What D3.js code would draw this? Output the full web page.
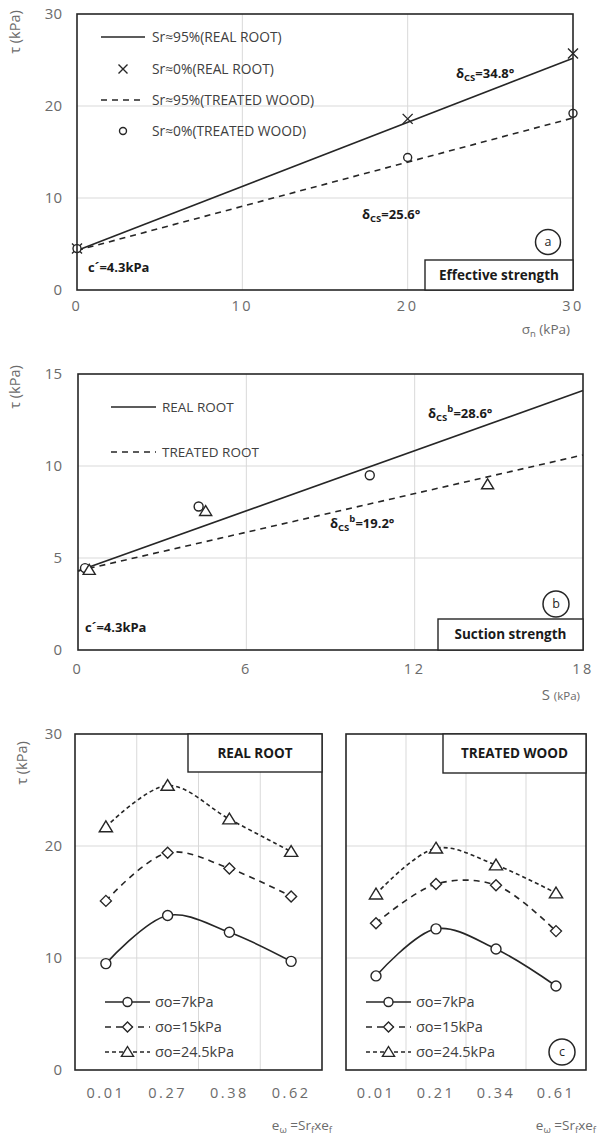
<!DOCTYPE html>
<html><head><meta charset="utf-8">
<script src="https://cdn.jsdelivr.net/npm/d3@7"></script>
<style>body{margin:0;background:#fff} svg{display:block}</style>
</head><body><svg id="c" width="598" height="1135"></svg>
<script>
// ---------- DATA ----------
// Panel a (effective strength)
const aTicksX = [0, 10, 20, 30];
const aTicksY = [0, 10, 20, 30];
const aSigma = [0, 20, 30];
const aRealDry = [4.5, 18.6, 25.7];     // Sr≈0% (REAL ROOT), crosses
const aTreatDry = [4.5, 14.4, 19.2];    // Sr≈0% (TREATED WOOD), circles
const aFitX = [0, 30];
const aRealFit = [4.3, 25.2];           // Sr≈95% (REAL ROOT)
const aTreatFit = [4.3, 18.7];          // Sr≈95% (TREATED WOOD)
const aLegend = ["Sr≈95%(REAL ROOT)", "Sr≈0%(REAL ROOT)", "Sr≈95%(TREATED WOOD)", "Sr≈0%(TREATED WOOD)"];

// Panel b (suction strength)
const bTicksX = [0, 6, 12, 18];
const bTicksY = [0, 5, 10, 15];
const bCircS = [0.25, 4.3, 10.4];
const bCircT = [4.45, 7.8, 9.5];
const bTriS = [0.4, 4.55, 14.6];
const bTriT = [4.35, 7.55, 9.0];
const bFitX = [0, 18];
const bRealFit = [4.3, 14.1];
const bTreatFit = [4.3, 10.6];
const bLegend = ["REAL ROOT", "TREATED ROOT"];

// Panel c
const cTicksY = [0, 10, 20, 30];
const cRealCats = ["0.01", "0.27", "0.38", "0.62"];
const cTreatCats = ["0.01", "0.21", "0.34", "0.61"];
const cReal7 = [9.5, 13.8, 12.3, 9.7];
const cReal15 = [15.1, 19.4, 18.0, 15.5];
const cReal245 = [21.7, 25.4, 22.4, 19.5];
const cTreat7 = [8.4, 12.6, 10.8, 7.5];
const cTreat15 = [13.1, 16.6, 16.5, 12.4];
const cTreat245 = [15.7, 19.8, 18.3, 15.8];
const cLegend = ["σo=7kPa", "σo=15kPa", "σo=24.5kPa"];

// ---------- DRAW ----------
const svg = d3.select("#c");
const FONT = "'Open Sans', 'Noto Sans', sans-serif";
const INK = "#262626", GRID = "#d9d9d9", TICK = "#6b6b6b";

function frame(x, y, ticksX, ticksY, gridX, gridY) {
  const g = svg.append("g");
  const [x0, x1] = x.range(), [y0, y1] = y.range();
  if (gridX) g.selectAll(".gx").data(gridX).join("line")
    .attr("x1", d => x(d)).attr("x2", d => x(d)).attr("y1", y0).attr("y2", y1)
    .attr("stroke", GRID).attr("stroke-width", 1);
  if (gridY) g.selectAll(".gy").data(gridY).join("line")
    .attr("x1", x0).attr("x2", x1).attr("y1", d => y(d)).attr("y2", d => y(d))
    .attr("stroke", GRID).attr("stroke-width", 1);
  return g;
}
function border(x, y) {
  const [x0, x1] = x.range(), [y0, y1] = y.range();
  svg.append("rect").attr("x", x0).attr("y", y1).attr("width", x1 - x0).attr("height", y0 - y1)
    .attr("fill", "none").attr("stroke", INK).attr("stroke-width", 1.6);
}
function yTickLabels(y, ticks, xpos) {
  svg.append("g").selectAll("text").data(ticks).join("text")
    .attr("x", xpos).attr("y", d => y(d)).attr("dy", "0.35em")
    .attr("text-anchor", "end").attr("font-family", FONT).attr("font-size", 15)
    .attr("fill", TICK).text(d => d);
}
function xTickLabels(pos, ticks, ypos, fmt) {
  svg.append("g").selectAll("text").data(ticks).join("text")
    .attr("x", d => pos(d)).attr("y", ypos)
    .attr("text-anchor", "middle").attr("font-family", FONT).attr("font-size", 14.5)
    .attr("letter-spacing", "2.5px")
    .attr("fill", TICK).text(d => fmt ? fmt(d) : d);
}
function yTitle(xp, yp) {
  svg.append("text").attr("transform", `translate(${xp},${yp}) rotate(-90)`)
    .attr("text-anchor", "middle").attr("font-family", FONT).attr("font-size", 14.5)
    .attr("fill", TICK).text("τ (kPa)");
}
function crossPath(s) { return `M${-s},${-s}L${s},${s}M${-s},${s}L${s},${-s}`; }
function triPath(s) { return `M0,${-s}L${s * 1.1},${s * 0.8}L${-s * 1.1},${s * 0.8}Z`; }
function diaPath(s) { return `M0,${-s}L${s},0L0,${s}L${-s},0Z`; }
function marker(g, type, cx, cy, s) {
  if (type === "circle") return g.append("circle").attr("cx", cx).attr("cy", cy).attr("r", s)
    .attr("fill", "#fff").attr("stroke", INK).attr("stroke-width", 1.4);
  const p = type === "cross" ? crossPath(s) : type === "tri" ? triPath(s) : diaPath(s);
  return g.append("path").attr("d", p).attr("transform", `translate(${cx},${cy})`)
    .attr("fill", type === "cross" ? "none" : "#fff").attr("stroke", INK).attr("stroke-width", 1.4);
}
function boldLabel(x, y, main, sub, sup, tail, size) {
  const t = svg.append("text").attr("x", x).attr("y", y).attr("font-family", FONT)
    .attr("font-weight", "bold").attr("font-size", size || 13).attr("fill", "#1a1a1a");
  t.append("tspan").text(main);
  if (sub) t.append("tspan").attr("font-size", 9.5).attr("dy", 3).text(sub);
  if (sup) t.append("tspan").attr("font-size", 9.5).attr("dy", -9).text(sup);
  t.append("tspan").attr("dy", sup ? 6 : (sub ? -3 : 0)).text(tail);
  return t;
}
function tagCircle(cx, cy, r, letter) {
  svg.append("circle").attr("cx", cx).attr("cy", cy).attr("r", r)
    .attr("fill", "#fff").attr("stroke", INK).attr("stroke-width", 1.5);
  svg.append("text").attr("x", cx).attr("y", cy).attr("dy", "0.35em").attr("text-anchor", "middle")
    .attr("font-family", FONT).attr("font-size", 12.5).attr("fill", INK).text(letter);
}
function titleBox(x0, y0, x1, y1, label, size) {
  svg.append("rect").attr("x", x0).attr("y", y0).attr("width", x1 - x0).attr("height", y1 - y0)
    .attr("fill", "#fff").attr("stroke", INK).attr("stroke-width", 1.4);
  svg.append("text").attr("x", (x0 + x1) / 2).attr("y", (y0 + y1) / 2).attr("dy", "0.35em")
    .attr("text-anchor", "middle").attr("font-family", FONT).attr("font-weight", "bold")
    .attr("font-size", size || 13).attr("fill", "#1a1a1a").text(label);
}

// ===== Panel a =====
{
  const x = d3.scaleLinear().domain([0, 30]).range([77, 573]);
  const y = d3.scaleLinear().domain([0, 30]).range([290, 14]);
  const g = frame(x, y, aTicksX, aTicksY, [10, 20], [10, 20]);
  const line = d3.line().x((d, i) => x(aFitX[i])).y(d => y(d));
  g.append("path").attr("d", line(aRealFit)).attr("fill", "none").attr("stroke", INK).attr("stroke-width", 1.6);
  g.append("path").attr("d", line(aTreatFit)).attr("fill", "none").attr("stroke", INK).attr("stroke-width", 1.6)
    .attr("stroke-dasharray", "6,5");
  aSigma.forEach((s, i) => marker(g, "cross", x(s), y(aRealDry[i]), 5));
  aSigma.forEach((s, i) => marker(g, "circle", x(s), y(aTreatDry[i]), 4));
  border(x, y);
  // legend
  const ly = [37, 69, 100, 131];
  const lg = svg.append("g");
  lg.append("line").attr("x1", 101).attr("x2", 145).attr("y1", ly[0]).attr("y2", ly[0]).attr("stroke", INK).attr("stroke-width", 1.6);
  marker(lg, "cross", 123, ly[1], 4.5);
  lg.append("line").attr("x1", 101).attr("x2", 145).attr("y1", ly[2]).attr("y2", ly[2]).attr("stroke", INK).attr("stroke-width", 1.6).attr("stroke-dasharray", "6,5");
  marker(lg, "circle", 123, ly[3], 3.5);
  lg.selectAll("text").data(aLegend).join("text").attr("x", 152).attr("y", (d, i) => ly[i]).attr("dy", "0.35em")
    .attr("font-family", FONT).attr("font-size", 13.8).attr("fill", "#404040").text(d => d);
  boldLabel(456, 78, "δ", "CS", null, "=34.8°");
  boldLabel(362, 219, "δ", "CS", null, "=25.6°");
  boldLabel(88, 272, "c´=4.3kPa", null, null, "");
  tagCircle(548, 242, 12.5, "a");
  titleBox(425, 260, 573, 290, "Effective strength", 13.5);
  yTickLabels(y, aTicksY, 62);
  xTickLabels(x, aTicksX, 311);
  yTitle(20, 32);
  const t = svg.append("text").attr("x", 570).attr("y", 334).attr("text-anchor", "end")
    .attr("font-family", FONT).attr("font-size", 13.5).attr("fill", TICK);
  t.append("tspan").text("σ");
  t.append("tspan").attr("font-size", 9.5).attr("dy", 3).text("n");
  t.append("tspan").attr("dy", -3).text(" (kPa)");
}

// ===== Panel b =====
{
  const x = d3.scaleLinear().domain([0, 18]).range([78, 583]);
  const y = d3.scaleLinear().domain([0, 15]).range([650, 374]);
  const g = frame(x, y, bTicksX, bTicksY, [6, 12], [5, 10]);
  const line = d3.line().x((d, i) => x(bFitX[i])).y(d => y(d));
  g.append("path").attr("d", line(bRealFit)).attr("fill", "none").attr("stroke", INK).attr("stroke-width", 1.6);
  g.append("path").attr("d", line(bTreatFit)).attr("fill", "none").attr("stroke", INK).attr("stroke-width", 1.6)
    .attr("stroke-dasharray", "6,5");
  bCircS.forEach((s, i) => marker(g, "circle", x(s), y(bCircT[i]), 4.5));
  bTriS.forEach((s, i) => marker(g, "tri", x(s), y(bTriT[i]), 5.5));
  border(x, y);
  const ly = [407, 452];
  const lg = svg.append("g");
  lg.append("line").attr("x1", 111).attr("x2", 156).attr("y1", ly[0]).attr("y2", ly[0]).attr("stroke", INK).attr("stroke-width", 1.6);
  lg.append("line").attr("x1", 111).attr("x2", 156).attr("y1", ly[1]).attr("y2", ly[1]).attr("stroke", INK).attr("stroke-width", 1.6).attr("stroke-dasharray", "6,5");
  lg.selectAll("text").data(bLegend).join("text").attr("x", 162).attr("y", (d, i) => ly[i]).attr("dy", "0.35em")
    .attr("font-family", FONT).attr("font-size", 13.5).attr("fill", "#404040").text(d => d);
  boldLabel(428, 418, "δ", "CS", "b", "=28.6°");
  boldLabel(330, 528, "δ", "CS", "b", "=19.2°");
  boldLabel(85, 632, "c´=4.3kPa", null, null, "");
  tagCircle(556, 604, 13, "b");
  titleBox(438, 619, 583, 650, "Suction strength", 13.5);
  yTickLabels(y, bTicksY, 62);
  xTickLabels(x, bTicksX, 674);
  yTitle(20, 387);
  const t = svg.append("text").attr("x", 580).attr("y", 700).attr("text-anchor", "end")
    .attr("font-family", FONT).attr("font-size", 15).attr("fill", TICK);
  t.append("tspan").text("S ");
  t.append("tspan").attr("font-size", 11.5).text("(kPa)");
}

// ===== Panel c =====
function panelC(cats, s7, s15, s245, x0, x1, title, tb, legX) {
  const x = d3.scaleBand().domain(cats).range([x0, x1]);
  const y = d3.scaleLinear().domain([0, 30]).range([1070, 734]);
  const g = svg.append("g");
  const bounds = cats.slice(1).map(c => x(c));
  g.selectAll(".gx").data(bounds).join("line").attr("x1", d => d).attr("x2", d => d)
    .attr("y1", 734).attr("y2", 1070).attr("stroke", GRID);
  g.selectAll(".gy").data([10, 20]).join("line").attr("x1", x0).attr("x2", x1)
    .attr("y1", d => y(d)).attr("y2", d => y(d)).attr("stroke", GRID);
  const cx = c => x(c) + x.bandwidth() / 2;
  const line = d3.line().x((d, i) => cx(cats[i])).y(d => y(d)).curve(d3.curveCatmullRom.alpha(0.5));
  const series = [[s7, "circle", null, 5], [s15, "dia", "6,5", 5.5], [s245, "tri", "4,3", 6]];
  series.forEach(([vals, m, dash, sz]) => {
    const p = g.append("path").attr("d", line(vals)).attr("fill", "none").attr("stroke", INK).attr("stroke-width", 1.6);
    if (dash) p.attr("stroke-dasharray", dash);
    vals.forEach((v, i) => marker(g, m, cx(cats[i]), y(v), sz));
  });
  border(d3.scaleLinear().range([x0, x1]), y);
  titleBox(tb[0], 734, x1, tb[1], title, 13.5);
  // legend
  const ly = [1002, 1027, 1052];
  const lg = svg.append("g");
  series.forEach(([vals, m, dash, sz], i) => {
    const l = lg.append("line").attr("x1", legX).attr("x2", legX + 45).attr("y1", ly[i]).attr("y2", ly[i])
      .attr("stroke", INK).attr("stroke-width", 1.6);
    if (dash) l.attr("stroke-dasharray", dash);
    marker(lg, m, legX + 22.5, ly[i], sz - 0.5);
  });
  lg.selectAll("text").data(cLegend).join("text").attr("x", legX + 50).attr("y", (d, i) => ly[i]).attr("dy", "0.35em")
    .attr("font-family", FONT).attr("font-size", 14.5).attr("fill", "#404040").text(d => d);
  xTickLabels(cx, cats, 1098);
  // axis title
  const t = svg.append("text").attr("x", x1 + 10).attr("y", 1130).attr("text-anchor", "end")
    .attr("font-family", FONT).attr("font-size", 13.5).attr("fill", TICK);
  t.append("tspan").text("e");
  t.append("tspan").attr("font-size", 9.5).attr("dy", 3).text("ω");
  t.append("tspan").attr("dy", -3).text(" =Sr");
  t.append("tspan").attr("font-size", 9.5).attr("dy", 3).text("f");
  t.append("tspan").attr("dy", -3).text("xe");
  t.append("tspan").attr("font-size", 9.5).attr("dy", 3).text("f");
  return y;
}
const yC = panelC(cRealCats, cReal7, cReal15, cReal245, 75, 322, "REAL ROOT", [188, 772], 105);
panelC(cTreatCats, cTreat7, cTreat15, cTreat245, 346, 586, "TREATED WOOD", [443, 773], 366);
tagCircle(562, 1052, 13, "c");
yTickLabels(yC, cTicksY, 62);
yTitle(27, 763);
</script></body></html>
